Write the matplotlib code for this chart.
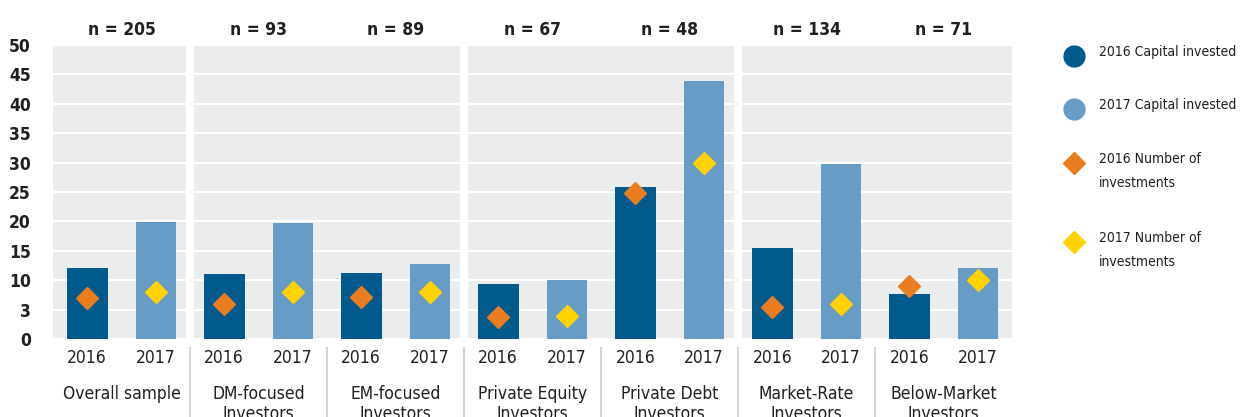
import matplotlib
matplotlib.use('Agg')
import matplotlib.pyplot as plt
import matplotlib.transforms as mtransforms
from matplotlib.lines import Line2D
import numpy as np

plt.rcParams['font.family'] = ['DejaVu Sans']
plt.rcParams['font.stretch'] = 'condensed'

# data
categories = ['Overall sample', 'DM-focused\nInvestors', 'EM-focused\nInvestors',
              'Private Equity\nInvestors', 'Private Debt\nInvestors',
              'Market-Rate\nInvestors', 'Below-Market\nInvestors']
sample_sizes = ['n = 205', 'n = 93', 'n = 89', 'n = 67', 'n = 48', 'n = 134', 'n = 71']
capital_2016 = [12.1, 11.0, 11.2, 9.4, 25.9, 15.5, 7.6]
capital_2017 = [19.9, 19.8, 12.8, 10.0, 43.8, 29.7, 12.0]
count_2016 = [7.0, 5.9, 7.1, 3.8, 24.9, 5.5, 9.1]
count_2017 = [8.0, 8.0, 8.0, 3.9, 30.0, 6.0, 10.0]
year_labels = ['2016', '2017']
y_ticks = [0, 5, 10, 15, 20, 25, 30, 35, 40, 45, 50]
y_tick_labels = ['0', '3', '10', '15', '20', '25', '30', '35', '40', '45', '50']

DARK_BLUE = '#005a8c'
LIGHT_BLUE = '#679cc6'
ORANGE = '#e97d1f'
YELLOW = '#ffd200'
PANEL = '#ebecec'
TEXT = '#231f20'

fig = plt.figure(figsize=(12.43, 4.17), dpi=100)
ax = fig.add_axes([0.0426, 0.187, 0.7716, 0.705])
ax.set_facecolor(PANEL)

n = len(categories)
x16 = np.arange(n) * 2
x17 = x16 + 1

ax.bar(x16, capital_2016, width=0.6, color=DARK_BLUE, zorder=3)
ax.bar(x17, capital_2017, width=0.58, color=LIGHT_BLUE, zorder=3)
ax.plot(x16, count_2016, 'D', color=ORANGE, markersize=11, zorder=4, linestyle='none')
ax.plot(x17, count_2017, 'D', color=YELLOW, markersize=11, zorder=4, linestyle='none')

ax.set_xlim(-0.5, 2 * n - 0.5)
ax.set_ylim(0, 50)
ax.set_yticks(y_ticks)
ax.set_yticklabels(y_tick_labels, fontsize=12.5, fontweight='bold', color=TEXT)
ax.tick_params(axis='y', length=0, pad=16)
ax.yaxis.grid(True, color='white', linewidth=1.5, zorder=1)
ax.set_axisbelow(True)

ticks = np.concatenate([x16, x17])
ax.set_xticks(np.sort(ticks))
ax.set_xticklabels(year_labels * n, fontsize=12.5, color=TEXT)
ax.tick_params(axis='x', length=0, pad=7)

for s in ax.spines.values():
    s.set_visible(False)

# white gaps between the grouped panels
for gx in [1.5, 5.5, 9.5]:
    ax.axvline(gx, color='white', linewidth=5.8, zorder=2)

trans = mtransforms.blended_transform_factory(ax.transData, ax.transAxes)
# light separators between categories below the axis
for sx in np.arange(1.5, 2 * n - 1, 2):
    ax.plot([sx, sx], [-0.031, -0.3], color='#cfcfcf', linewidth=1.3,
            transform=trans, clip_on=False)

for i, (cat, nn) in enumerate(zip(categories, sample_sizes)):
    cx = 2 * i + 0.5
    ax.text(cx, 1.052, nn, transform=trans, ha='center', va='center',
            fontsize=12.5, fontweight='bold', color=TEXT)
    ax.text(cx, -0.155, cat, transform=trans, ha='center', va='top',
            fontsize=12.5, color=TEXT, linespacing=1.15)

# legend on the right
fx = 1074 / 1243
tx = 1099 / 1243
legend_items = [
    ('o', DARK_BLUE, '2016 Capital invested', 56, 15),
    ('o', LIGHT_BLUE, '2017 Capital invested', 109, 15),
    ('D', ORANGE, '2016 Number of\ninvestments', 163, 11),
    ('D', YELLOW, '2017 Number of\ninvestments', 242, 11),
]
for marker, color, label, ypix, ms in legend_items:
    fy = 1 - ypix / 417
    fig.add_artist(Line2D([fx], [fy], marker=marker, color=color, markersize=ms,
                          linestyle='none', transform=fig.transFigure))
    fig.text(tx, fy + 0.026, label, ha='left', va='top', fontsize=10,
             color=TEXT, linespacing=1.9)

fig.savefig('out.png', dpi=100)
